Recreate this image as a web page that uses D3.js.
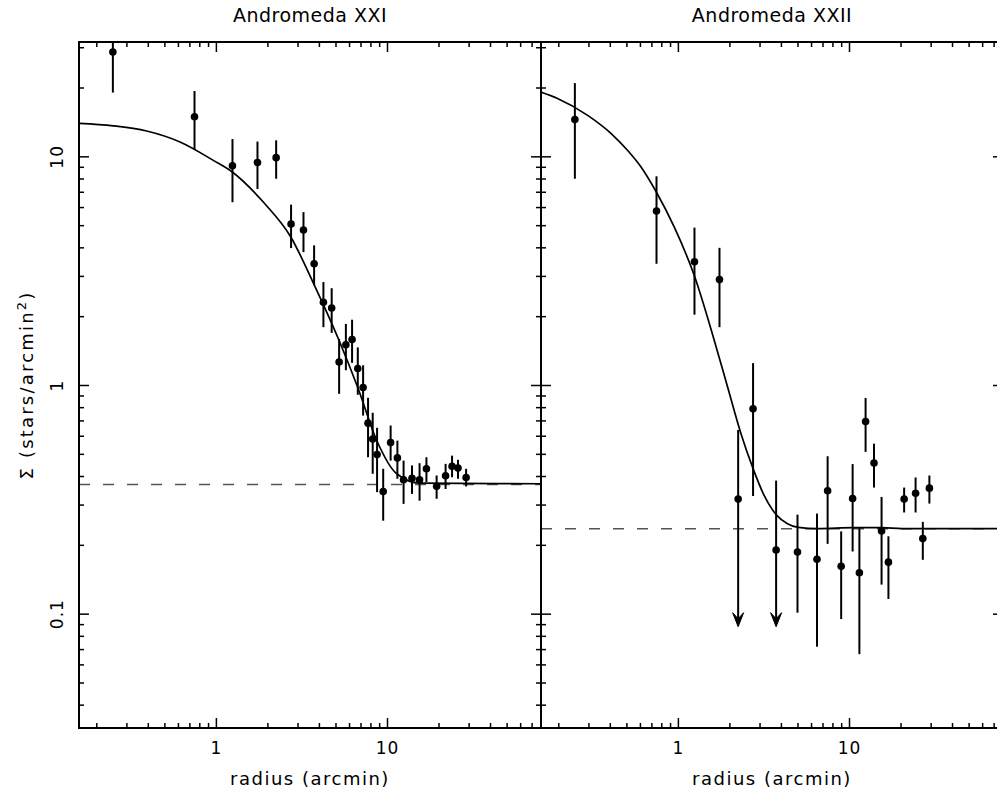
<!DOCTYPE html>
<html>
<head>
<meta charset="utf-8">
<script src="https://cdn.jsdelivr.net/npm/d3@7/dist/d3.min.js"></script>
<style>
  body { margin: 0; background: #fff; }
  text { font-family: "DejaVu Sans", sans-serif; fill: #000; }
</style>
</head>
<body>
<div id="chart"></div>
<script>
// Andromeda XXI : binned profile (radius in arcmin, density in stars/arcmin^2)
const xxiRadius = [0.25, 0.75, 1.25, 1.75, 2.25, 2.75, 3.25, 3.75, 4.25, 4.75, 5.25, 5.75, 6.25, 6.75, 7.25,
                   7.75, 8.25, 8.75, 9.5, 10.5, 11.5, 12.5, 14, 15.5, 17, 19.5, 22, 24, 26, 29];
const xxiSigma  = [28.6, 14.9, 9.1, 9.4, 9.87, 5.06, 4.76, 3.39, 2.30, 2.17, 1.26, 1.50, 1.58, 1.18, 0.975,
                   0.681, 0.581, 0.497, 0.342, 0.56, 0.48, 0.385, 0.391, 0.385, 0.43, 0.361, 0.401, 0.441, 0.433, 0.394];
const xxiLow    = [19.0, 10.7, 6.3, 7.2, 7.98, 3.97, 3.81, 2.73, 1.79, 1.69, 0.915, 1.16, 1.25, 0.906, 0.735,
                   0.483, 0.409, 0.34, 0.255, 0.467, 0.389, 0.302, 0.334, 0.312, 0.376, 0.318, 0.351, 0.395, 0.389, 0.36];
const xxiHigh   = [38.2, 19.3, 11.9, 11.6, 11.75, 6.15, 5.7, 4.08, 2.82, 2.65, 1.59, 1.85, 1.93, 1.46, 1.22,
                   0.879, 0.756, 0.65, 0.43, 0.665, 0.571, 0.467, 0.445, 0.455, 0.483, 0.402, 0.452, 0.491, 0.471, 0.43];
const xxiFitRadius = [0.158, 0.251, 0.394, 0.617, 0.966, 1.247, 1.892, 2.74, 3.73, 5.24, 6.74, 8.71, 11.4, 15.6, 79.4];
const xxiFitSigma  = [13.95, 13.6, 12.9, 11.55, 9.6, 8.54, 6.31, 4.44, 2.77, 1.57, 0.978, 0.572, 0.409, 0.372, 0.37];
const xxiBackground = 0.367;

// Andromeda XXII
const xxiiRadius = [0.25, 0.75, 1.25, 1.75, 2.25, 2.75, 3.75, 5, 6.5, 7.5, 9, 10.5, 11.5, 12.5, 14, 15.5, 17,
                    21, 24.5, 27, 29.5];
const xxiiSigma  = [14.5, 5.76, 3.46, 2.89, 0.317, 0.787, 0.19, 0.186, 0.173, 0.345, 0.161, 0.319, 0.151, 0.692,
                    0.456, 0.230, 0.168, 0.317, 0.336, 0.213, 0.354];
const xxiiLow    = [7.98, 3.39, 2.03, 1.79, 0.0877, 0.327, 0.0877, 0.101, 0.0717, 0.202, 0.0947, 0.187, 0.0665, 0.51,
                    0.356, 0.134, 0.116, 0.277, 0.277, 0.172, 0.303];
const xxiiHigh   = [20.9, 8.18, 4.88, 3.98, 0.636, 1.246, 0.382, 0.271, 0.274, 0.488, 0.229, 0.451, 0.239, 0.877,
                    0.554, 0.324, 0.218, 0.356, 0.394, 0.252, 0.402];
const xxiiUpperLimit = [false, false, false, false, true, false, true, false, false, false, false, false, false, false,
                        false, false, false, false, false, false, false];
const xxiiFitRadius = [0.158, 0.198, 0.297, 0.406, 0.509, 0.609, 0.748, 0.953, 1.247, 1.632, 1.954, 2.34, 2.744,
                       3.185, 3.785, 4.37, 5.05, 6.57, 10.7, 15.55, 20.4, 79.4];
const xxiiFitSigma  = [19.1, 17.9, 15.1, 12.6, 10.6, 8.98, 6.98, 4.9, 3.01, 1.566, 0.978, 0.611, 0.433, 0.33, 0.269,
                       0.2474, 0.2383, 0.2353, 0.2376, 0.2376, 0.2353, 0.2353];
const xxiiBackground = 0.235;

const xDomain = [Math.pow(10, -0.8), Math.pow(10, 1.9)];
const yDomain = [Math.pow(10, -1.5), Math.pow(10, 1.5)];
const xMajor = [1, 10];
const yMajor = [0.1, 1, 10];

const width = 997, height = 793;
const plotTop = 42, plotBottom = 728;

const panels = [
    { id: "xxi", title: "Andromeda XXI", x0: 79, x1: 541, yLabels: true,
      r: xxiRadius, s: xxiSigma, lo: xxiLow, hi: xxiHigh, limit: xxiRadius.map(() => false),
      fitR: xxiFitRadius, fitS: xxiFitSigma, bg: xxiBackground },
    { id: "xxii", title: "Andromeda XXII", x0: 541, x1: 1003, yLabels: false,
      r: xxiiRadius, s: xxiiSigma, lo: xxiiLow, hi: xxiiHigh, limit: xxiiUpperLimit,
      fitR: xxiiFitRadius, fitS: xxiiFitSigma, bg: xxiiBackground }
];

const svg = d3.select("#chart").append("svg")
    .attr("width", width)
    .attr("height", height)
    .style("background", "white")
    .style("display", "block");

const y = d3.scaleLog().domain(yDomain).range([plotBottom, plotTop]);

const isMajor = v => Math.abs(Math.log10(v) - Math.round(Math.log10(v))) < 1e-6;

function styleAxis(g) {
    g.select(".domain").remove();
    g.selectAll(".tick line").attr("stroke", "#000").attr("stroke-width", 1.5);
}

panels.forEach(p => {
    const x = d3.scaleLog().domain(xDomain).range([p.x0, p.x1]);
    const xMinor = x.ticks().filter(v => !isMajor(v));
    const yMinor = y.ticks().filter(v => !isMajor(v));

    const g = svg.append("g");

    g.append("clipPath").attr("id", "clip-" + p.id)
        .append("rect")
        .attr("x", p.x0).attr("y", plotTop)
        .attr("width", p.x1 - p.x0).attr("height", plotBottom - plotTop);

    const plot = g.append("g").attr("clip-path", `url(#clip-${p.id})`);

    // background level
    plot.append("line")
        .attr("x1", p.x0).attr("x2", p.x1)
        .attr("y1", y(p.bg)).attr("y2", y(p.bg))
        .attr("stroke", "#555")
        .attr("stroke-width", 1.4)
        .attr("stroke-dasharray", "11,13");

    // fitted profile
    const fit = p.fitR.map((r, i) => [r, p.fitS[i]]);
    plot.append("path")
        .datum(fit)
        .attr("fill", "none")
        .attr("stroke", "#000")
        .attr("stroke-width", 1.7)
        .attr("d", d3.line().x(d => x(d[0])).y(d => y(d[1])).curve(d3.curveMonotoneX));

    const pts = p.r.map((r, i) => ({ r, s: p.s[i], lo: p.lo[i], hi: p.hi[i], limit: p.limit[i] }));

    // error bars
    plot.selectAll(".err").data(pts).enter().append("line")
        .attr("x1", d => x(d.r)).attr("x2", d => x(d.r))
        .attr("y1", d => y(d.hi))
        .attr("y2", d => d.limit ? y(d.lo) - 6 : y(d.lo))
        .attr("stroke", "#000")
        .attr("stroke-width", 2);

    // upper-limit arrows
    plot.selectAll(".arrow").data(pts.filter(d => d.limit)).enter().append("path")
        .attr("d", d => {
            const cx = x(d.r), ty = y(d.lo);
            return `M${cx},${ty} L${cx - 5.5},${ty - 14} L${cx},${ty - 8} L${cx + 5.5},${ty - 14} Z`;
        })
        .attr("fill", "#000")
        .attr("stroke", "#000")
        .attr("stroke-width", 1);

    // points
    plot.selectAll(".dot").data(pts).enter().append("circle")
        .attr("cx", d => x(d.r))
        .attr("cy", d => y(d.s))
        .attr("r", 3.8)
        .attr("fill", "#000");

    // ticks on all four sides
    [[xMinor, 5], [xMajor, 10]].forEach(([vals, len]) => {
        g.append("g").attr("transform", `translate(0,${plotBottom})`)
            .call(d3.axisBottom(x).tickValues(vals).tickSize(-len).tickFormat(""))
            .call(styleAxis);
        g.append("g").attr("transform", `translate(0,${plotTop})`)
            .call(d3.axisTop(x).tickValues(vals).tickSize(-len).tickFormat(""))
            .call(styleAxis);
    });
    [[yMinor, 5], [yMajor, 10]].forEach(([vals, len]) => {
        g.append("g").attr("transform", `translate(${p.x0},0)`)
            .call(d3.axisLeft(y).tickValues(vals).tickSize(-len).tickFormat(""))
            .call(styleAxis);
        g.append("g").attr("transform", `translate(${p.x1},0)`)
            .call(d3.axisRight(y).tickValues(vals).tickSize(-len).tickFormat(""))
            .call(styleAxis);
    });

    // x tick labels
    const xl = g.append("g").attr("transform", `translate(0,${plotBottom})`)
        .call(d3.axisBottom(x).tickValues(xMajor).tickSize(0).tickPadding(14).tickFormat(d3.format("~g")));
    xl.select(".domain").remove();
    xl.selectAll("text")
        .attr("font-family", "DejaVu Sans, sans-serif")
        .attr("font-size", "17px")
        .attr("letter-spacing", "1px")
        .attr("fill", "#000");

    // y tick labels (rotated), left panel only
    if (p.yLabels) {
        const yl = g.append("g").attr("transform", `translate(${p.x0},0)`)
            .call(d3.axisLeft(y).tickValues(yMajor).tickSize(0).tickFormat(d3.format("~g")));
        yl.select(".domain").remove();
        yl.selectAll("text")
            .attr("x", 0).attr("dy", 0)
            .attr("text-anchor", "middle")
            .attr("transform", "translate(-16,0) rotate(-90)")
            .attr("font-family", "DejaVu Sans, sans-serif")
            .attr("font-size", "17px")
            .attr("letter-spacing", "1px")
            .attr("fill", "#000");
    }

    // frame
    g.append("rect")
        .attr("x", p.x0).attr("y", plotTop)
        .attr("width", p.x1 - p.x0).attr("height", plotBottom - plotTop)
        .attr("fill", "none")
        .attr("stroke", "#000")
        .attr("stroke-width", 2);

    // title
    g.append("text")
        .attr("x", (p.x0 + p.x1) / 2)
        .attr("y", 22)
        .attr("text-anchor", "middle")
        .attr("font-size", "19px")
        .attr("letter-spacing", "0.5px")
        .text(p.title);

    // x axis title
    g.append("text")
        .attr("x", (p.x0 + p.x1) / 2)
        .attr("y", 785)
        .attr("text-anchor", "middle")
        .attr("font-size", "18px")
        .attr("letter-spacing", "1.5px")
        .text("radius (arcmin)");
});

// y axis title
const yt = svg.append("text")
    .attr("transform", "translate(33,385) rotate(-90)")
    .attr("text-anchor", "middle")
    .attr("font-size", "18px")
    .attr("letter-spacing", "2.2px");
yt.append("tspan").text("Σ (stars/arcmin");
yt.append("tspan").attr("dy", -7).attr("font-size", "13px").text("2");
yt.append("tspan").attr("dy", 7).text(")");
</script>
</body>
</html>
